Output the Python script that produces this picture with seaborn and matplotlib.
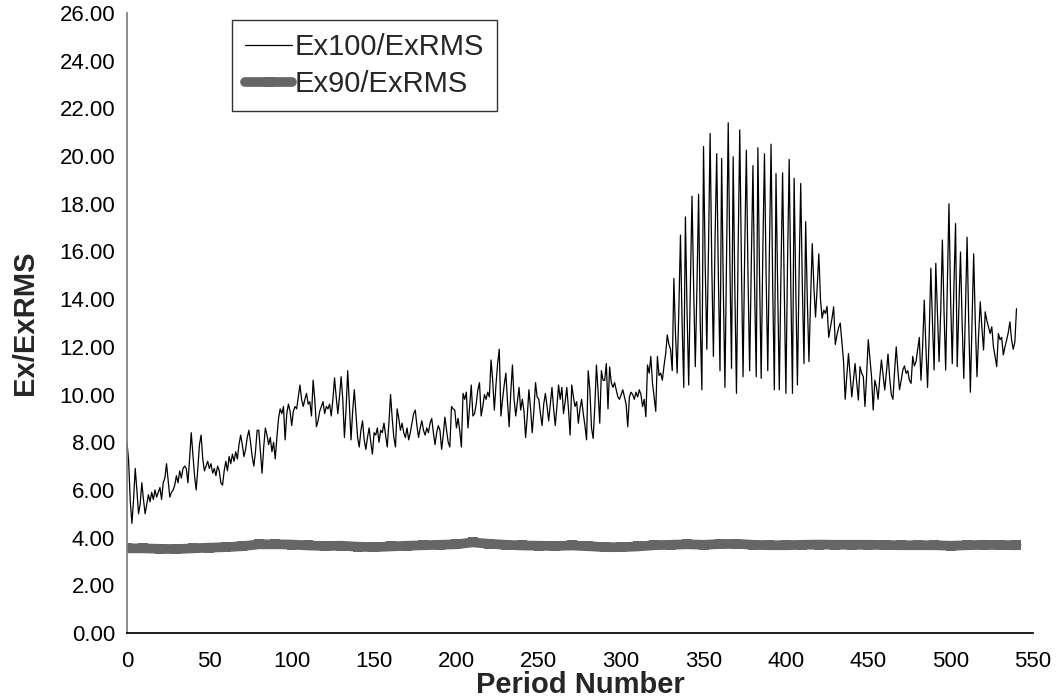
import numpy as np
import pandas as pd
import seaborn as sns
import matplotlib.pyplot as plt
from matplotlib.ticker import FormatStrFormatter

# Ex100/ExRMS, one value per period (0..540)
ex100 = [
    8.0, 7.2, 5.5, 4.6, 5.6, 6.9, 6.0, 5.0, 5.4, 6.3,
    5.6, 5.0, 5.4, 5.8, 5.5, 5.9, 5.6, 6.0, 5.7, 5.9,
    6.1, 5.6, 6.3, 6.5, 7.1, 6.4, 5.7, 5.9, 6.0, 6.2,
    6.6, 6.3, 6.8, 6.5, 6.9, 7.0, 6.9, 6.3, 7.3, 8.4,
    7.5, 6.6, 6.0, 6.9, 7.9, 8.3, 7.3, 6.8, 7.0, 7.2,
    6.9, 7.1, 6.7, 6.9, 6.6, 7.0, 6.8, 6.3, 6.2, 6.8,
    7.2, 6.8, 7.4, 7.1, 7.5, 7.2, 7.6, 7.3, 7.9, 8.3,
    7.9, 7.4, 7.7, 8.2, 8.5, 8.0, 7.4, 7.0, 7.6, 8.5,
    8.5, 7.6, 6.7, 7.8, 8.6, 8.3, 7.9, 8.2, 7.6, 8.0,
    7.3, 8.2, 9.0, 9.4, 9.2, 9.5, 8.1, 9.2, 9.6, 9.3,
    8.7, 9.3, 9.5, 9.4, 9.9, 10.4, 9.8, 9.5, 9.8, 10.05,
    9.6, 9.7, 9.1, 10.6, 9.8, 8.65, 8.9, 9.3, 9.5, 9.7,
    9.2, 9.5, 9.4, 9.6, 9.1, 9.8, 10.7, 9.9, 9.2, 9.9,
    10.75, 9.8, 8.2, 9.4, 11.0, 9.6, 8.1, 9.3, 10.2, 9.2,
    8.2, 7.8, 8.5, 8.9, 8.1, 7.7, 8.2, 8.6, 8.0, 7.5,
    8.4, 8.3, 8.6, 8.0, 8.5, 8.4, 8.8, 8.3, 7.8, 8.8,
    10.0, 9.0, 8.2, 7.8, 9.4, 9.0, 8.5, 8.8, 8.4, 8.2,
    8.6, 8.1, 8.4, 8.8, 9.2, 9.35, 8.7, 8.2, 8.6, 8.9,
    8.5, 8.3, 8.6, 8.4, 8.8, 9.0, 8.4, 7.9, 8.4, 8.7,
    8.5, 7.7, 8.3, 9.05, 8.5, 8.0, 7.8, 9.5, 9.4, 9.35,
    8.6, 9.0, 8.5, 7.8, 10.05, 9.8, 10.1, 8.6, 9.5, 10.4,
    9.1, 9.2, 9.6, 10.2, 10.5, 9.1, 9.5, 10.0, 9.8, 10.1,
    9.9, 11.45, 10.6, 9.35, 10.4, 11.3, 11.9, 9.1, 9.8, 10.4,
    10.9, 9.7, 8.65, 10.1, 11.24, 9.8, 9.1, 9.7, 10.3, 9.35,
    9.8, 9.3, 8.2, 9.1, 10.2, 9.4, 8.4, 9.3, 10.5, 9.9,
    9.8, 9.2, 8.7, 9.6, 10.05, 9.5, 8.9, 9.6, 10.3, 9.4,
    8.7, 9.5, 10.4, 9.8, 10.3, 9.2, 9.7, 10.3, 9.4, 8.3,
    10.4, 9.9, 9.5, 9.7, 8.8, 9.4, 9.8, 9.2, 8.7, 8.1,
    11.0, 10.2, 8.6, 8.16, 9.5, 11.24, 10.1, 8.8, 11.0, 10.6,
    10.6, 11.3, 9.4, 11.16, 10.5, 10.3, 10.5, 10.2, 9.9, 9.8,
    10.0, 10.2, 9.9, 9.6, 8.65, 9.9, 10.1, 10.0, 9.8, 10.1,
    9.9, 10.2, 10.0, 9.5, 9.8, 9.07, 11.24, 10.9, 11.6, 10.5,
    9.9, 9.3, 11.6, 10.8, 10.9, 10.6, 11.2, 11.7, 12.5, 12.1,
    11.9, 11.0, 14.87, 12.5, 10.9, 13.5, 16.69, 13.0, 10.3, 17.45,
    13.5, 10.4, 14.5, 18.32, 14.5, 11.17, 14.5, 18.4, 13.0, 10.2,
    20.4, 15.5, 11.9, 16.0, 20.95, 15.5, 11.6, 16.5, 20.1, 15.0,
    11.0, 19.9, 14.5, 10.3, 16.0, 21.4, 15.5, 11.1, 19.97, 14.5,
    10.05, 16.0, 21.1, 15.5, 10.75, 16.0, 20.25, 15.0, 11.0, 15.5,
    19.6, 14.5, 10.75, 20.35, 15.0, 10.68, 16.0, 20.1, 15.0, 11.0,
    16.0, 20.5, 14.5, 10.2, 19.27, 14.5, 10.2, 15.0, 19.3, 14.5,
    10.05, 15.5, 19.86, 14.5, 10.05, 19.07, 14.5, 10.4, 15.0, 18.85,
    14.5, 11.3, 17.25, 14.0, 11.38, 14.0, 16.33, 14.5, 13.25, 14.5,
    15.9, 14.0, 13.2, 13.54, 13.4, 13.7, 12.4, 12.8, 13.2, 13.68,
    12.1, 12.5, 12.8, 13.0, 12.2, 11.4, 9.8, 10.8, 11.72, 10.8,
    9.9, 10.6, 11.3, 10.5, 9.77, 11.17, 10.9, 10.75, 9.5, 10.8,
    12.3, 11.5, 10.75, 9.35, 10.6, 10.3, 9.8, 10.7, 11.45, 10.8,
    10.19, 10.9, 11.7, 10.7, 10.0, 9.8, 11.0, 12.0, 11.0, 10.2,
    10.6, 11.03, 11.2, 10.89, 11.0, 10.6, 10.47, 11.6, 11.2, 11.38,
    11.9, 12.4, 10.6, 12.0, 13.96, 12.0, 10.3, 12.5, 15.3, 13.0,
    11.03, 15.5, 13.5, 11.38, 13.5, 16.48, 13.5, 11.03, 14.5, 18.0,
    14.0, 11.3, 14.5, 17.17, 11.17, 13.5, 15.98, 13.0, 10.68, 13.5,
    16.6, 13.0, 10.1, 13.0, 15.9, 13.0, 10.75, 12.5, 13.89, 12.8,
    11.87, 13.47, 13.1, 12.84, 12.56, 12.84, 12.0, 11.6, 11.17, 12.56,
    12.3, 12.4, 11.66, 12.0, 12.28, 12.6, 13.05, 12.3, 11.9, 12.2, 13.6,
]
period100 = list(range(len(ex100)))

# Ex90/ExRMS, read every 10 periods
period90 = list(range(0, 541, 10))
ex90 = [
    3.55, 3.55, 3.53, 3.52, 3.55, 3.58, 3.60, 3.64, 3.72, 3.72,
    3.71, 3.67, 3.65, 3.66, 3.62, 3.60, 3.63, 3.66, 3.68, 3.70,
    3.72, 3.80, 3.74, 3.70, 3.67, 3.66, 3.65, 3.67, 3.64, 3.60,
    3.60, 3.63, 3.68, 3.70, 3.72, 3.70, 3.73, 3.74, 3.70, 3.68,
    3.68, 3.70, 3.71, 3.70, 3.70, 3.70, 3.69, 3.68, 3.68, 3.68,
    3.66, 3.68, 3.70, 3.69, 3.68,
]

df100 = pd.DataFrame({'period': period100, 'ratio': ex100})
df90 = pd.DataFrame({'period': period90, 'ratio': ex90})

sns.set_theme(style='white')
plt.rcParams['font.family'] = ['Liberation Sans', 'DejaVu Sans']

fig = plt.figure(figsize=(10.6, 7), dpi=100)
ax = fig.add_axes([0.1198, 0.0957, 0.8547, 0.8857])

sns.lineplot(data=df100, x='period', y='ratio', ax=ax, color='black',
             linewidth=0.9, label='Ex100/ExRMS')
sns.lineplot(data=df90, x='period', y='ratio', ax=ax, color='#666666',
             linewidth=7, marker='s', markersize=7.2, markeredgewidth=0,
             label='Ex90/ExRMS')

ax.set_xlim(0, 550)
ax.set_ylim(0, 26)
ax.set_xticks(range(0, 551, 50))
ax.set_yticks(np.arange(0, 26.01, 2))
ax.yaxis.set_major_formatter(FormatStrFormatter('%.2f'))
ax.tick_params(axis='both', direction='out', length=5, width=1,
               color='#808080', labelsize=16, labelcolor='black')
ax.tick_params(axis='x', pad=8)

for s in ['top', 'right']:
    ax.spines[s].set_visible(False)
ax.spines['left'].set_color('#808080')
ax.spines['bottom'].set_color('black')

ax.set_xlabel('Period Number', fontsize=21, fontweight='bold')
ax.set_ylabel('Ex/ExRMS', fontsize=21, fontweight='bold')
ax.xaxis.set_label_coords(0.5, -0.062)
ax.yaxis.set_label_coords(-0.097, 0.5)

leg = ax.legend(loc='upper left', bbox_to_anchor=(0.116, 0.989),
                borderaxespad=0, fontsize=21, frameon=True, fancybox=False,
                edgecolor='black', handlelength=1.6, handletextpad=0.1,
                borderpad=0.45, labelspacing=0.3)
leg.get_frame().set_linewidth(1)

plt.savefig('out.png', dpi=100)
